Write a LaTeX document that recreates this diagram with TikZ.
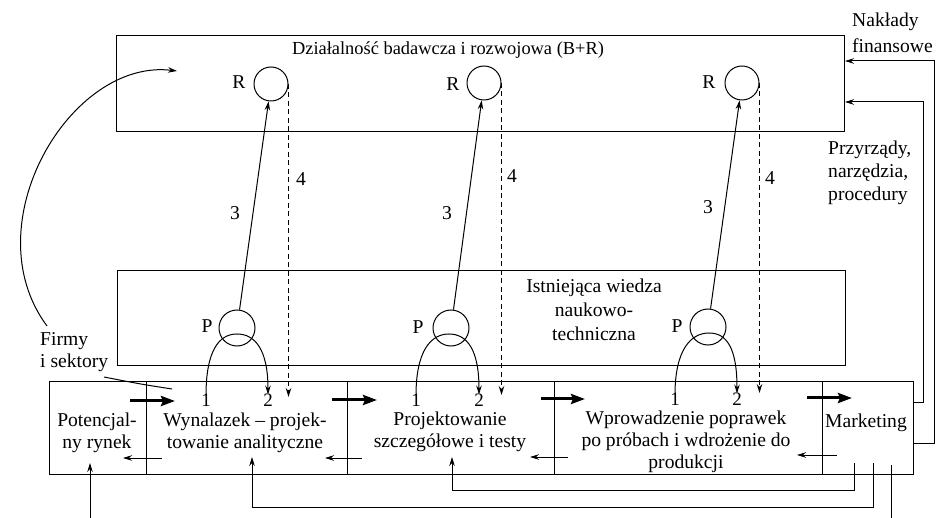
\documentclass[tikz,border=0pt]{standalone}
\usepackage{fontspec}
\setmainfont{Liberation Serif}
\usetikzlibrary{arrows.meta}
\begin{document}
\begin{tikzpicture}[x=1pt,y=-1pt,
  every node/.append style={font=\fontsize{19.6}{22}\selectfont, inner sep=0pt},
  box/.style={draw, line width=1pt, anchor=north west, inner sep=0pt},
  rc/.style={draw, circle, line width=1pt, minimum size=34pt, inner sep=0pt},
  pc/.style={draw, circle, line width=1pt, minimum size=36pt, inner sep=0pt},
  ln/.style={line width=1pt},
  arr/.style={line width=1pt, -{Stealth[length=9pt,width=5.5pt]}},
  dasharr/.style={arr, dash pattern=on 5pt off 3.5pt},
  fat/.style={line width=3pt, -{Stealth[length=14pt,width=10pt,inset=2pt]}},
  numlbl/.style={font=\fontsize{19}{19}\selectfont}
]
\clip (0,0) rectangle (937,518);
\fill[white] (0,0) rectangle (937,518);

% boxes
\node[box, minimum width=728pt, minimum height=96pt] (br) at (116,35) {};
\node[box, minimum width=728pt, minimum height=95pt] (iw) at (117,270) {};
\node[box, minimum width=97pt, minimum height=93pt] (pr) at (49,381) {};
\node[box, minimum width=201pt, minimum height=93pt] (wy) at (146,381) {};
\node[box, minimum width=207pt, minimum height=93pt] (pt) at (347,381) {};
\node[box, minimum width=268pt, minimum height=93pt] (wp) at (554,381) {};
\node[box, minimum width=91pt, minimum height=93pt] (mk) at (822,381) {};

% texts
\node[font=\fontsize{18.4}{22}\selectfont] (title) at (448,50) {Działalność badawcza i rozwojowa (B+R)};
\node[align=center, font=\fontsize{19.6}{24}\selectfont] (wiedza) at (594,310) {Istniejąca wiedza\\naukowo-\\techniczna};
\node[align=center] (prt) at (97,433) {Potencjal-\\ny rynek};
\node[align=center] (wyt) at (245,433) {Wynalazek – projek-\\towanie analityczne};
\node[align=center] (ptt) at (450,432) {Projektowanie\\szczegółowe i testy};
\node[align=center] (wpt) at (686,442) {Wprowadzenie poprawek\\po próbach i wdrożenie do\\produkcji};
\node (mkt) at (866,423) {Marketing};
\node[align=left, anchor=west, font=\fontsize{19.6}{26}\selectfont] (nak) at (852,33) {Nakłady\\finansowe};
\node[align=left, anchor=west, font=\fontsize{19.6}{23}\selectfont] (prz) at (828,173) {Przyrządy,\\narzędzia,\\procedury};
\node[align=left, anchor=west] (firmy) at (40,352) {Firmy\\i sektory};

% circles
\node[rc] (R1) at (271,84) {};
\node[rc] (R2) at (484,83) {};
\node[rc] (R3) at (742,83) {};
\node[pc] (P1) at (237,328) {};
\node[pc] (P2) at (451,328) {};
\node[pc] (P3) at (708,327) {};
\node (lR1) at (239,82) {R};
\node (lR2) at (453,84) {R};
\node (lR3) at (709,82) {R};
\node (lP1) at (207,326) {P};
\node (lP2) at (418,327) {P};
\node (lP3) at (677,326) {P};

% arrows 3
\draw[arr] (P1) -- (R1);
\draw[arr] (P2) -- (R2);
\draw[arr] (P3) -- (R3);
\node (t31) at (235,213) {3};
\node (t32) at (447,213) {3};
\node (t33) at (708,207) {3};

% dashed arrows 4
\coordinate (d1) at (289,397);
\coordinate (d2) at (503,395);
\coordinate (d3) at (760,393);
\draw[dasharr] (R1.east) -- (R1.east |- d1);
\draw[dasharr] (R2.east) -- (R2.east |- d2);
\draw[dasharr] (R3.east) -- (R3.east |- d3);
\node (t41) at (301,179) {4};
\node (t42) at (512,176) {4};
\node (t43) at (770,178) {4};

% 1 / 2 labels and loops
\node[numlbl] (a1) at (206,400) {1};
\node[numlbl] (b1) at (268,400) {2};
\node[numlbl] (a2) at (416,400) {1};
\node[numlbl] (b2) at (479,400) {2};
\node[numlbl] (a3) at (675,399) {1};
\node[numlbl] (b3) at (737,399) {2};
\coordinate (k1) at (237,334);
\coordinate (k2) at (449,334);
\coordinate (k3) at (709,333);
\draw[arr] ([yshift=-2pt]a1.north) .. controls +(0,-45) and +(-18,0) .. (k1) .. controls +(18,0) and +(0,-45) .. ([yshift=-1pt]b1.north);
\draw[arr] ([yshift=-2pt]a2.north) .. controls +(0,-45) and +(-18,0) .. (k2) .. controls +(18,0) and +(0,-45) .. ([yshift=-1pt]b2.north);
\draw[arr] ([yshift=-2pt]a3.north) .. controls +(0,-45) and +(-18,0) .. (k3) .. controls +(18,0) and +(0,-45) .. ([yshift=-1pt]b3.north);

% Firmy arc and leader
\coordinate (f0) at (47,326);
\coordinate (f1) at (177,71);
\draw[arr] (f0) .. controls (-28,225) and (70,58) .. (f1);
\coordinate (s0) at (104,377);
\coordinate (s1) at (172,389);
\draw[ln] (s0) .. controls (140,384) .. (s1);

% thick forward arrows
\foreach \n/\a/\b/\y in {1/130/175/401, 2/332/377/400, 3/541/585/399, 4/807/852/398}{
  \coordinate (ha\n) at (\a,\y);
  \coordinate (hb\n) at (\b,\y);
  \draw[fat] (ha\n) -- (hb\n);
}
% thin back arrows
\foreach \n/\a/\b/\y in {1/162/123/458, 2/362/325/458, 3/568/530/457, 4/837/797/455}{
  \coordinate (ga\n) at (\a,\y);
  \coordinate (gb\n) at (\b,\y);
  \draw[arr] (ga\n) -- (gb\n);
}

% right feedback
\coordinate (n0) at (913,443);
\coordinate (n1) at (934,61);
\draw[arr] (mk.east |- n0) -| (n1) -- (br.east |- n1);
\coordinate (q0) at (913,403);
\coordinate (q1) at (923,102);
\draw[arr] (mk.east |- q0) -| (q1) -- (br.east |- q1);

% bottom feedback
\coordinate (u1) at (854,463); \coordinate (v1) at (452,457); \coordinate (w1) at (0,490);
\coordinate (u2) at (873,463); \coordinate (v2) at (252,457); \coordinate (w2) at (0,507);
\coordinate (u3) at (891,465); \coordinate (v3) at (90,463);  \coordinate (w3) at (0,530);
\draw[arr] (u1) -- (u1 |- w1) -| (v1);
\draw[arr] (u2) -- (u2 |- w2) -| (v2);
\draw[arr] (u3) -- (u3 |- w3) -| (v3);
\end{tikzpicture}
\end{document}
